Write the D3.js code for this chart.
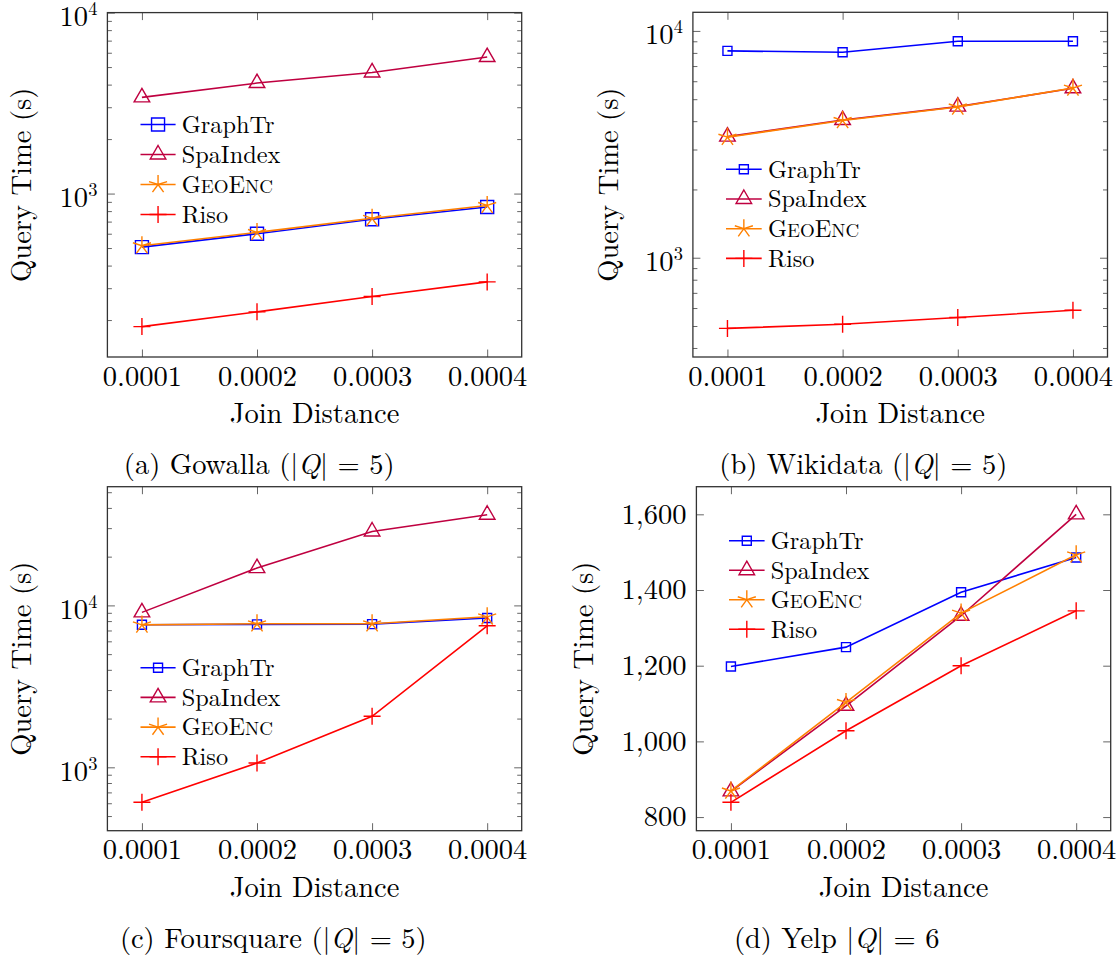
<!DOCTYPE html>
<html>
<head>
<meta charset="utf-8">
<script src="https://cdn.jsdelivr.net/npm/d3@7"></script>
<style>
  body { margin: 0; background: #fff; }
  svg.figSVG text {
    font-family: "Latin Modern Roman", "CMU Serif", "Liberation Serif", "Tinos", "Times New Roman", "Nimbus Roman", "FreeSerif", "Noto Serif", "DejaVu Serif", Georgia, serif;
    font-size: 28.5px; font-weight: 400; fill: #000;
  }
</style>
</head>
<body>
<svg class="figSVG" width="1120" height="962"></svg>
<script>

const joinDist = [0.0001, 0.0002, 0.0003, 0.0004];
const xTickVals = [0.0001, 0.0002, 0.0003, 0.0004];
const seriesNames = ['GraphTr', 'SpaIndex', 'GeoEnc', 'Riso'];

// (a) Gowalla
const gowGraphTr  = [506, 600, 721, 843];
const gowSpaIndex = [3400, 4080, 4670, 5680];
const gowGeoEnc   = [515, 610, 730, 860];
const gowRiso     = [184, 222, 270, 325];

// (b) Wikidata
const wikiGraphTr  = [8165, 8050, 9000, 9000];
const wikiSpaIndex = [3420, 4045, 4635, 5585];
const wikiGeoEnc   = [3400, 4030, 4620, 5600];
const wikiRiso     = [488, 509, 545, 587];

// (c) Foursquare
const fourGraphTr  = [7600, 7630, 7660, 8350];
const fourSpaIndex = [9055, 17000, 28600, 36300];
const fourGeoEnc   = [7580, 7700, 7700, 8500];
const fourRiso     = [608, 1063, 2066, 7480];

// (d) Yelp
const yelpGraphTr  = [1198, 1249, 1394, 1486];
const yelpSpaIndex = [868, 1094, 1332, 1600];
const yelpGeoEnc   = [869, 1103, 1339, 1493];
const yelpRiso     = [839, 1028, 1200, 1345];
const yelpYTicks   = [800, 1000, 1200, 1400, 1600];

const seriesCols  = ['#0000ff', '#bf0040', '#ff8000', '#ff0000'];
const seriesMarks = ['square', 'triangle', 'star', 'plus'];

const xDomain = [0.00007, 0.00043];
const svg = d3.select('svg.figSVG');

const panels = [
  {id: 'a', data: [gowGraphTr, gowSpaIndex, gowGeoEnc, gowRiso], log: true,
   yDom: [125, 10000], box: [107.4, 12.6, 521.7, 357], sq: 6.5,
   leg: {x0: 140.5, x1: 175.6, tx: 181.7, y0: 124.5, dy: 30},
   ylabX: 24, cap: {x: 259.2, y: 474, pre: '(a) Gowalla (|', post: '| = 5)'}},
  {id: 'b', data: [wikiGraphTr, wikiSpaIndex, wikiGeoEnc, wikiRiso], log: true,
   yDom: [365, 12080], box: [692.9, 12.3, 1107.5, 357], sq: 4.5,
   leg: {x0: 726, x1: 761.7, tx: 768, y0: 169.3, dy: 29.7},
   ylabX: 611, cap: {x: 863.3, y: 474, pre: '(b) Wikidata (|', post: '| = 5)'}},
  {id: 'c', data: [fourGraphTr, fourSpaIndex, fourGeoEnc, fourRiso], log: true,
   yDom: [406, 54080], box: [107.4, 486.7, 521.7, 830.7], sq: 4.5,
   leg: {x0: 140.5, x1: 175.6, tx: 181.7, y0: 667.7, dy: 29.7},
   ylabX: 24, cap: {x: 273.3, y: 948, pre: '(c) Foursquare (|', post: '| = 5)'}},
  {id: 'd', data: [yelpGraphTr, yelpSpaIndex, yelpGeoEnc, yelpRiso], log: false,
   yDom: [764, 1673], yTicks: yelpYTicks, box: [696.4, 486.7, 1110.7, 830.7], sq: 4.5,
   leg: {x0: 729, x1: 764.6, tx: 770.7, y0: 540.7, dy: 29.5},
   ylabX: 586, cap: {x: 836.7, y: 948, pre: '(d) Yelp |', post: '| = 6'}}
];

const tickMaj = 7.5;
const tickMin = 4.5;

function markPath(type, cx, cy, sq){
  const r = 9;
  switch (type) {
    case 'square':
      return `M${cx - sq},${cy - sq}h${2 * sq}v${2 * sq}h${-2 * sq}Z`;
    case 'triangle': {
      const c = r * Math.cos(Math.PI / 6);
      return `M${cx},${cy - r}L${cx + c},${cy + r / 2}L${cx - c},${cy + r / 2}Z`;
    }
    case 'star': {
      let p = '';
      for (let k = 0; k < 5; k++) {
        const a = -Math.PI / 2 + k * 2 * Math.PI / 5;
        p += `M${cx},${cy}L${cx + 9.5 * Math.cos(a)},${cy + 9.5 * Math.sin(a)}`;
      }
      return p;
    }
    default:
      return `M${cx - 8.5},${cy}h17M${cx},${cy - 8.5}v17`;
  }
}

function styleAxis(g){
  g.select('.domain').remove();
  g.selectAll('.tick line').attr('stroke', '#666').attr('stroke-width', 1);
  g.attr('font-family', null).attr('font-size', null);
}

function drawPanel(p){
  const g = svg.append('g').attr('class', 'panel panel-' + p.id);
  const [L, T, R, B] = p.box;

  const x = d3.scaleLinear().domain(xDomain).range([L, R]);
  const y = (p.log ? d3.scaleLog() : d3.scaleLinear()).domain(p.yDom).range([B, T]);

  let majors, minors = [];
  if (p.log) {
    const all = y.ticks();
    majors = all.filter(v => Math.abs(Math.log10(v) - Math.round(Math.log10(v))) < 1e-9);
    minors = all.filter(v => !majors.includes(v));
  } else {
    majors = p.yTicks;
  }

  // x ticks, bottom and top, pointing inwards
  g.append('g')
    .attr('class', 'x-axis')
    .attr('transform', `translate(0,${B})`)
    .call(d3.axisBottom(x).tickValues(xTickVals).tickSize(-tickMaj).tickPadding(8.5)
      .tickFormat(d3.format('.4f')))
    .call(styleAxis);
  g.append('g')
    .attr('transform', `translate(0,${T})`)
    .call(d3.axisTop(x).tickValues(xTickVals).tickSize(-tickMaj).tickFormat(''))
    .call(styleAxis);

  // y ticks, left and right
  g.append('g')
    .attr('transform', `translate(${L},0)`)
    .call(d3.axisLeft(y).tickValues(majors).tickSize(-tickMaj).tickFormat(''))
    .call(styleAxis);
  g.append('g')
    .attr('transform', `translate(${R},0)`)
    .call(d3.axisRight(y).tickValues(majors).tickSize(-tickMaj).tickFormat(''))
    .call(styleAxis);
  if (minors.length) {
    g.append('g')
      .attr('transform', `translate(${L},0)`)
      .call(d3.axisLeft(y).tickValues(minors).tickSize(-tickMin).tickFormat(''))
      .call(styleAxis);
    g.append('g')
      .attr('transform', `translate(${R},0)`)
      .call(d3.axisRight(y).tickValues(minors).tickSize(-tickMin).tickFormat(''))
      .call(styleAxis);
  }

  // y tick labels
  const yLabs = g.append('g').attr('class', 'y-labels')
    .selectAll('text')
    .data(majors)
    .enter()
    .append('text')
    .attr('x', L - 10)
    .style('text-anchor', 'end');
  if (p.log) {
    yLabs.attr('y', d => y(d) + 13.3);
    yLabs.append('tspan').text('10');
    yLabs.append('tspan')
      .attr('dy', -11)
      .style('font-size', '18.5px')
      .text(d => Math.round(Math.log10(d)));
  } else {
    yLabs.attr('y', d => y(d) + 9.3).text(d => d3.format(',')(d));
  }

  // series
  const line = d3.line()
    .x((d, i) => x(joinDist[i]))
    .y(d => y(d));

  p.data.forEach((vals, s) => {
    const sg = g.append('g').attr('class', 'series ' + seriesNames[s]);
    sg.append('path')
      .attr('d', line(vals))
      .style('fill', 'none')
      .style('stroke', seriesCols[s])
      .style('stroke-width', 1.6);
    sg.selectAll('path.mark')
      .data(vals)
      .enter()
      .append('path')
      .attr('class', 'mark')
      .attr('d', (d, i) => markPath(seriesMarks[s], x(joinDist[i]), y(d), p.sq))
      .style('fill', 'none')
      .style('stroke', seriesCols[s])
      .style('stroke-width', 1.4);
  });

  // frame
  g.append('rect')
    .attr('x', L).attr('y', T)
    .attr('width', R - L).attr('height', B - T)
    .style('fill', 'none')
    .style('stroke', '#333')
    .style('stroke-width', 1.3);

  // legend
  const lg = g.append('g').attr('class', 'legend');
  seriesNames.forEach((name, s) => {
    const ly = p.leg.y0 + s * p.leg.dy;
    lg.append('line')
      .attr('x1', p.leg.x0).attr('x2', p.leg.x1)
      .attr('y1', ly).attr('y2', ly)
      .style('stroke', seriesCols[s])
      .style('stroke-width', 1.6);
    lg.append('path')
      .attr('d', markPath(seriesMarks[s], (p.leg.x0 + p.leg.x1) / 2, ly, p.sq))
      .style('fill', 'none')
      .style('stroke', seriesCols[s])
      .style('stroke-width', 1.4);
    const t = lg.append('text')
      .attr('x', p.leg.tx)
      .attr('y', ly + 8.3)
      .style('font-size', '24.3px');
    if (name === 'GeoEnc') {
      t.append('tspan').text('G');
      t.append('tspan').style('font-size', '19px').text('EO');
      t.append('tspan').text('E');
      t.append('tspan').style('font-size', '19px').text('NC');
    } else {
      t.text(name);
    }
  });

  // axis titles
  g.append('text')
    .attr('x', (L + R) / 2)
    .attr('y', B + 66.3)
    .style('text-anchor', 'middle')
    .text('Join Distance');

  g.append('text')
    .attr('transform', `translate(${p.ylabX + 7},${(T + B) / 2}) rotate(-90)`)
    .style('text-anchor', 'middle')
    .text('Query Time (s)');

  // caption
  const cap = svg.append('text')
    .attr('class', 'caption')
    .attr('x', p.cap.x)
    .attr('y', p.cap.y)
    .style('text-anchor', 'middle');
  cap.append('tspan').text(p.cap.pre);
  cap.append('tspan').style('font-style', 'italic').text('Q');
  cap.append('tspan').text(p.cap.post);
}

panels.forEach(drawPanel);

</script>
</body>
</html>
